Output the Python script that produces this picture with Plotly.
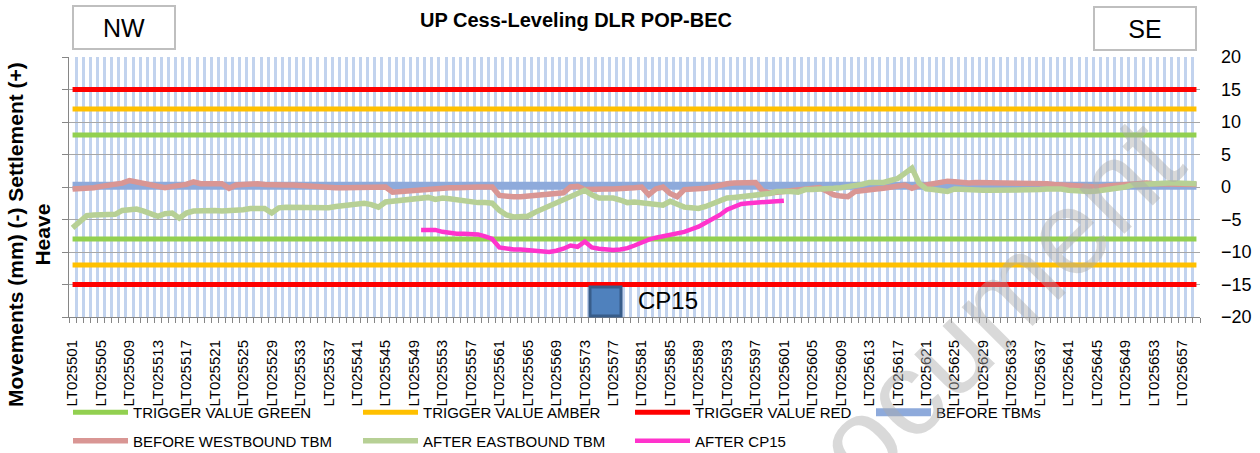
import plotly.graph_objects as go

# ---------------- data ----------------
CATEGORIES = [f"LT025{n}" for n in range(501, 660)]
TICK_STEP = 4

TRIGGER_GREEN = 8
TRIGGER_AMBER = 12
TRIGGER_RED = 15

BEFORE_TBMS = [0.2] * 159

BEFORE_WESTBOUND = [
    -0.3, -0.3, -0.2, -0.1, 0.1, 0.2, 0.4, 0.6, 1.0, 0.8,
    0.6, 0.4, 0.1, -0.1, 0.1, 0.2, 0.4, 0.8, 0.5, 0.5,
    0.4, 0.5, -0.2, 0.3, 0.4, 0.5, 0.5, 0.4, 0.3, 0.3,
    0.3, 0.3, 0.2, 0.2, 0.1, 0.0, 0.0, -0.1, -0.1, -0.1,
    0.0, 0.0, -0.1, 0.0, 0.0, -0.8, -0.7, -0.5, -0.4, -0.3,
    -0.3, -0.2, -0.2, -0.1, -0.1, 0.0, 0.0, 0.0, 0.0, 0.0,
    -1.3, -1.5, -1.5, -1.5, -1.4, -1.4, -1.3, -1.2, -1.1, -0.9,
    0.0, 0.1, -0.4, -0.3, -0.3, -0.3, -0.3, -0.3, -0.3, -0.1,
    0.0, -1.2, -0.3, 0.0, -1.0, -1.5, -0.4, -0.4, -0.4, -0.2,
    0.0, 0.3, 0.5, 0.6, 0.6, 0.6, 0.7, -0.6, -0.9, -0.8,
    -0.7, -0.6, -0.5, -0.3, -0.2, -0.1, -0.6, -1.2, -1.4, -1.5,
    -0.7, -0.5, -0.4, -0.3, -0.2, 0.0, 0.1, 0.3, -0.2, 0.2,
    0.3, 0.5, 0.7, 0.9, 0.8, 0.6, 0.6, 0.7, 0.7, 0.7,
    0.6, 0.5, 0.5, 0.6, 0.7, 0.7, 0.6, 0.5, 0.4, 0.3,
    0.3, 0.2, 0.1, 0.0, 0.0, 0.1, 0.2, 0.4, 0.5, 0.6,
    0.7, 0.6, 0.5, 0.5, 0.4, 0.4, 0.4, 0.4, 0.4,
]

AFTER_EASTBOUND = [
    -6.3, -5.4, -4.4, -4.3, -4.3, -4.2, -4.2, -3.6, -3.4, -3.4,
    -3.7, -4.0, -4.5, -4.1, -4.0, -4.8, -4.0, -3.7, -3.6, -3.5,
    -3.6, -3.7, -3.7, -3.6, -3.5, -3.3, -3.3, -3.3, -4.0, -3.2,
    -3.1, -3.1, -3.1, -3.1, -3.2, -3.3, -3.2, -3.0, -2.9, -2.8,
    -2.7, -2.5, -2.7, -3.1, -2.3, -2.2, -2.1, -2.0, -1.8, -1.7,
    -1.6, -1.9, -1.7, -1.8, -2.0, -2.1, -2.3, -2.4, -2.4, -2.5,
    -3.6, -4.3, -4.6, -4.6, -4.5, -3.9, -3.4, -2.9, -2.4, -2.0,
    -1.6, -1.1, -0.5, -1.2, -1.7, -1.7, -1.7, -2.0, -2.4, -2.3,
    -2.4, -2.5, -2.6, -2.8, -2.2, -2.6, -3.1, -3.2, -3.3, -3.0,
    -2.6, -2.1, -1.7, -1.6, -1.5, -1.4, -1.3, -1.2, -1.0, -0.7,
    -0.6, -0.7, -0.8, -0.4, -0.4, -0.4, -0.4, -0.2, -0.1, 0.0,
    0.2, 0.4, 0.7, 0.7, 0.7, 1.0, 1.3, 2.1, 2.9, 0.6,
    -0.3, -0.4, -0.6, -0.7, -0.3, -0.4, -0.4, -0.5, -0.5, -0.5,
    -0.5, -0.6, -0.6, -0.6, -0.5, -0.4, -0.4, -0.3, -0.2, -0.3,
    -0.5, -0.6, -0.7, -0.7, -0.6, -0.5, -0.3, -0.2, 0.0, 0.3,
    0.4, 0.5, 0.5, 0.6, 0.6, 0.6, 0.5, 0.5, 0.5,
]

CP15_START = 49  # first point = LT025550
AFTER_CP15 = [
    -6.6, -6.6, -6.6, -6.9, -7.1, -7.2, -7.2, -7.3, -7.3, -7.6,
    -8.0, -9.3, -9.5, -9.6, -9.6, -9.7, -9.8, -10.0, -10.0, -9.8,
    -9.5, -9.0, -9.2, -8.4, -9.3, -9.5, -9.6, -9.7, -9.6, -9.4,
    -9.0, -8.5, -8.1, -7.8, -7.6, -7.4, -7.2, -6.9, -6.5, -6.1,
    -5.5, -4.9, -4.3, -3.5, -3.0, -2.6, -2.5, -2.4, -2.3, -2.2,
    -2.1, -2.1,
]

# ---------------- styling ----------------
FONT = "Liberation Sans, Arial, sans-serif"
C_GREEN = "#92d050"
C_AMBER = "#ffc000"
C_RED = "#ff0000"
C_BLUE = "#8eaadb"
C_ROSE = "#d99694"
C_OLIVE = "#b7d095"
C_MAGENTA = "#ff33cc"

n = len(CATEGORIES)
x = list(range(n))

fig = go.Figure()

def trigger(name, value, color, legend):
    fig.add_trace(go.Scatter(x=x, y=[value] * n, mode="lines", name=name,
                             line=dict(color=color, width=5), legend=legend,
                             legendgroup=name, hoverinfo="skip"))
    fig.add_trace(go.Scatter(x=x, y=[-value] * n, mode="lines", name=name,
                             line=dict(color=color, width=5), legend=legend,
                             legendgroup=name, showlegend=False, hoverinfo="skip"))

trigger("TRIGGER VALUE GREEN", TRIGGER_GREEN, C_GREEN, "legend")
trigger("TRIGGER VALUE AMBER", TRIGGER_AMBER, C_AMBER, "legend2")
trigger("TRIGGER VALUE RED", TRIGGER_RED, C_RED, "legend3")

fig.add_trace(go.Scatter(x=x, y=BEFORE_TBMS, mode="lines", name="BEFORE TBMs",
                         line=dict(color=C_BLUE, width=8), legend="legend4",
                         legendgroup="b1"))
fig.add_trace(go.Scatter(x=x, y=BEFORE_WESTBOUND, mode="lines", name="BEFORE WESTBOUND TBM",
                         line=dict(color=C_ROSE, width=5.5), legend="legend",
                         legendgroup="b2"))
fig.add_trace(go.Scatter(x=x, y=AFTER_EASTBOUND, mode="lines", name="AFTER EASTBOUND TBM",
                         line=dict(color=C_OLIVE, width=5.5), legend="legend2",
                         legendgroup="b3"))
# the top-most series is bound to the right-hand (labelled) axis, same scale
fig.add_trace(go.Scatter(x=x[CP15_START:CP15_START + len(AFTER_CP15)], y=AFTER_CP15,
                         mode="lines", name="AFTER CP15", yaxis="y2",
                         line=dict(color=C_MAGENTA, width=4.5), legend="legend3",
                         legendgroup="b4"))

L, R, T, B = 69, 60, 57, 136
W, H = 1260, 453
pw, ph = W - L - R, H - T - B

def px(xp):
    return (xp - L) / pw

def py(yp):
    return (H - B - yp) / ph

ITEM_W = 55
legend_common = dict(orientation="v", yanchor="top", xanchor="left",
                     font=dict(family=FONT, size=15, color="#000"),
                     bgcolor="rgba(0,0,0,0)", tracegroupgap=6,
                     itemwidth=ITEM_W)
TEXT_OFF = ITEM_W + 12

fig.update_layout(
    width=W, height=H,
    margin=dict(l=L, r=R, t=T, b=B, autoexpand=False),
    paper_bgcolor="white", plot_bgcolor="white",
    font=dict(family=FONT, color="#000"),
    title=dict(text="<b>UP Cess-Leveling DLR POP-BEC</b>", x=576 / W, xanchor="center",
               xref="container", yref="container",
               y=1 - 20 / H, yanchor="middle", font=dict(size=20, family=FONT, color="#000")),
    legend=dict(x=px(135 - TEXT_OFF), y=py(396), **legend_common),
    legend2=dict(x=px(425 - TEXT_OFF), y=py(396), **legend_common),
    legend3=dict(x=px(697 - TEXT_OFF), y=py(396), **legend_common),
    legend4=dict(x=px(938 - TEXT_OFF), y=py(396), **legend_common),
    xaxis=dict(
        range=[-0.5, n - 0.5],
        automargin=False,
        tickmode="array",
        tickvals=x[::TICK_STEP],
        ticktext=CATEGORIES[::TICK_STEP],
        tickangle=-90,
        ticks="",
        tickfont=dict(family=FONT, size=15, color="#000"),
        showgrid=False,
        showline=True, linecolor="#868686", linewidth=1,
        zeroline=False,
        minor=dict(tick0=0.5, dtick=1, ticks="outside", ticklen=5, tickcolor="#868686",
                   showgrid=True, gridcolor="#c2d3ee", gridwidth=2.5),
        ticklabelstandoff=16,
    ),
    yaxis=dict(
        range=[-20, 20], dtick=5, tick0=0, automargin=False,
        showticklabels=False, ticks="outside", ticklen=6, tickcolor="#868686",
        showline=True, linecolor="#868686", linewidth=1,
        showgrid=True, gridcolor="#a6a6a6", gridwidth=1, zeroline=False,
    ),
    yaxis2=dict(
        overlaying="y", side="right", range=[-20, 20], dtick=5, tick0=0, automargin=False,
        showgrid=False, zeroline=False, showline=False, ticks="",
        tickfont=dict(family=FONT, size=18, color="#000"),
        ticklabelstandoff=20,
    ),
    showlegend=True,
)

# axis title on the left (two lines, bold)
fig.add_annotation(text="<b>Movements (mm) (-) Settlement (+)<br>Heave</b>",
                   xref="paper", yref="paper", x=px(29), y=py(235),
                   xanchor="center", yanchor="middle", textangle=-90, showarrow=False,
                   font=dict(family=FONT, size=21, color="#000"))

# direction boxes
for label, cx, cy in (("NW", 124, 27.5), ("SE", 1145, 28.5)):
    fig.add_annotation(text=label, xref="paper", yref="paper", x=px(cx), y=py(cy),
                       xanchor="center", yanchor="middle", showarrow=False,
                       width=100, height=41, borderpad=0,
                       bordercolor="#bfbfbf", borderwidth=2, bgcolor="white",
                       font=dict(family=FONT, size=25, color="#000"))

# CP15 marker key
fig.add_shape(type="rect", xref="paper", yref="paper",
              x0=px(590), x1=px(621), y0=py(316), y1=py(287),
              line=dict(color="#385d8a", width=3), fillcolor="#4f81bd", layer="above")
fig.add_annotation(text="CP15", xref="paper", yref="paper", x=px(636), y=py(300),
                   xanchor="left", yanchor="middle", showarrow=False,
                   font=dict(family=FONT, size=24, color="#000"))

# faint document watermark
fig.add_annotation(text="Document", xref="paper", yref="paper", x=px(966), y=py(333),
                   xanchor="center", yanchor="middle", textangle=-45, showarrow=False,
                   font=dict(family=FONT, size=120, color="rgba(170,170,170,0.45)"))

fig.write_html("out.html", config={"displayModeBar": False},
               post_script="document.body.style.margin='0';document.body.style.padding='0';")
